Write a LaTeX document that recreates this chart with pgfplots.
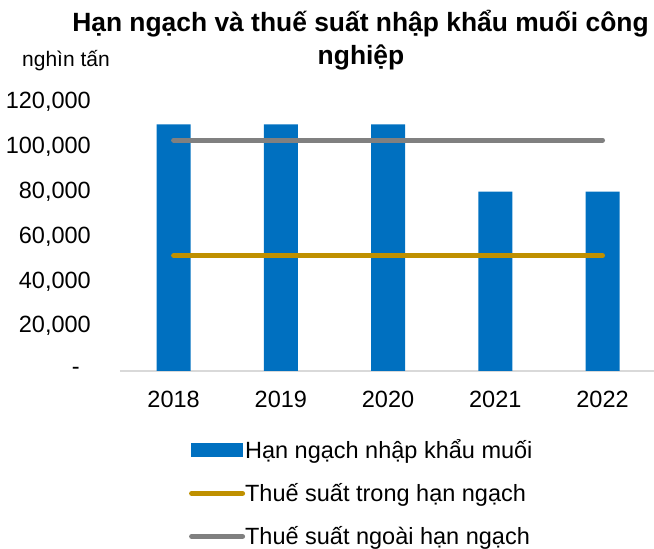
\documentclass[border=0pt]{standalone}
\usepackage{fontspec}
\setmainfont{Liberation Sans}
\usepackage{pgfplots}
\pgfplotsset{compat=1.18}

\definecolor{quotaBlue}{HTML}{0070C0}
\definecolor{inGold}{HTML}{BF9000}
\definecolor{outGray}{HTML}{808080}
\definecolor{axisGray}{HTML}{D9D9D9}

\newcommand{\tickfont}{\fontsize{23.5}{28}\selectfont}

\begin{document}
\begin{tikzpicture}[x=1pt,y=1pt]
\useasboundingbox (0,0) rectangle (654,549);

% titles
\node[anchor=base, font=\fontsize{26.4}{30}\selectfont\bfseries, inner sep=0pt]
  at (360.5,517) {Hạn ngạch và thuế suất nhập khẩu muối công};
\node[anchor=base, font=\fontsize{26.4}{30}\selectfont\bfseries, inner sep=0pt]
  at (361,484) {nghiệp};
\node[anchor=base west, font=\fontsize{21}{25}\selectfont, inner sep=0pt]
  at (22,482) {nghìn tấn};

\begin{axis}[
  at={(120pt,178pt)}, anchor=south west,
  scale only axis, width=534pt, height=269pt,
  xmin=-0.5, xmax=4.48, ymin=0, ymax=120000,
  axis line style={draw=none},
  tick style={draw=none},
  scaled y ticks=false,
  xtick={0,1,2,3,4},
  xticklabels={2018,2019,2020,2021,2022},
  ytick={0,20000,40000,60000,80000,100000,120000},
  yticklabels={{-\rule{11pt}{0pt}},{20,000},{40,000},{60,000},{80,000},{100,000},{120,000}},
  /pgf/number format/assume math mode=true,
  tick label style={font=\tickfont},
  yticklabel style={anchor=east, inner sep=0pt, xshift=-29pt},
  xticklabel style={anchor=north, inner sep=0pt, yshift=-20pt},
  clip=false,
  legend style={draw=none, fill=none, at={(0.129,-0.263)}, anchor=north west,
    font=\tickfont, row sep=20pt, inner sep=0pt,
    nodes={text height=17pt, text depth=6pt, inner sep=0pt, xshift=10pt}},
  legend cell align=left,
]
\draw[axisGray, line width=1.2pt] (rel axis cs:0,0) -- (rel axis cs:1,0);

% import quota (thousand tonnes)
\addplot[ybar, bar width=34pt, fill=quotaBlue, draw=none,
  legend image code/.code={\fill[quotaBlue] (0pt,-4pt) rectangle (52pt,10pt);}]
  coordinates {(0,110000) (1,110000) (2,110000) (3,80000) (4,80000)};
\addlegendentry{Hạn ngạch nhập khẩu muối}

% in-quota tariff
\addplot[inGold, line width=5pt, line cap=round,
  legend image code/.code={\draw[inGold, line width=5pt, line cap=round] (1pt,3pt) -- (52pt,3pt);}]
  coordinates {(0,51500) (1,51500) (2,51500) (3,51500) (4,51500)};
\addlegendentry{Thuế suất trong hạn ngạch}

% out-of-quota tariff
\addplot[outGray, line width=5pt, line cap=round,
  legend image code/.code={\draw[outGray, line width=5pt, line cap=round] (1pt,3pt) -- (52pt,3pt);}]
  coordinates {(0,103000) (1,103000) (2,103000) (3,103000) (4,103000)};
\addlegendentry{Thuế suất ngoài hạn ngạch}
\end{axis}
\end{tikzpicture}
\end{document}
